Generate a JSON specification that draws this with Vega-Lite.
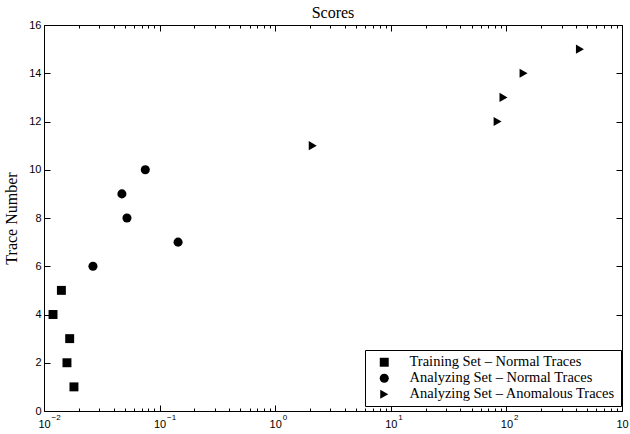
{
  "$schema": "https://vega.github.io/schema/vega-lite/v6.json",
  "width": 578,
  "height": 386,
  "autosize": {"type": "none"},
  "padding": {"left": 44, "top": 25, "right": 8, "bottom": 23},
  "background": "white",
  "title": {"text": "Scores", "font": "Liberation Serif", "fontSize": 16, "fontWeight": "normal", "color": "black", "offset": -2},
  "data": {"values": [
    {"set": "Training Set – Normal Traces", "score": 0.01816, "trace": 1},
    {"set": "Training Set – Normal Traces", "score": 0.0158, "trace": 2},
    {"set": "Training Set – Normal Traces", "score": 0.01668, "trace": 3},
    {"set": "Training Set – Normal Traces", "score": 0.01197, "trace": 4},
    {"set": "Training Set – Normal Traces", "score": 0.01414, "trace": 5},
    {"set": "Analyzing Set – Normal Traces", "score": 0.02652, "trace": 6},
    {"set": "Analyzing Set – Normal Traces", "score": 0.1445, "trace": 7},
    {"set": "Analyzing Set – Normal Traces", "score": 0.0522, "trace": 8},
    {"set": "Analyzing Set – Normal Traces", "score": 0.0472, "trace": 9},
    {"set": "Analyzing Set – Normal Traces", "score": 0.0752, "trace": 10},
    {"set": "Analyzing Set – Anomalous Traces", "score": 2.113, "trace": 11},
    {"set": "Analyzing Set – Anomalous Traces", "score": 83.9, "trace": 12},
    {"set": "Analyzing Set – Anomalous Traces", "score": 94.4, "trace": 13},
    {"set": "Analyzing Set – Anomalous Traces", "score": 140.8, "trace": 14},
    {"set": "Analyzing Set – Anomalous Traces", "score": 432.6, "trace": 15}
  ]},
  "config": {
    "view": {"stroke": null},
    "axis": {
      "grid": false,
      "domainColor": "black",
      "domainWidth": 1,
      "tickColor": "black",
      "tickWidth": 1,
      "labelColor": "black",
      "labelFont": "Liberation Sans",
      "labelFontSize": 11,
      "titleFont": "Liberation Serif",
      "titleFontSize": 16,
      "titleFontWeight": "normal",
      "titleColor": "black"
    },
    "legend": {
      "strokeColor": "black",
      "fillColor": "white",
      "padding": 5,
      "labelFont": "Liberation Serif",
      "labelFontSize": 14.5,
      "labelColor": "black",
      "labelLimit": 400,
      "rowPadding": 1,
      "symbolOffset": 7,
      "labelOffset": 18,
      "symbolStrokeWidth": 0,
      "symbolFillColor": "black",
      "symbolOpacity": 1,
      "cornerRadius": 0
    }
  },
  "resolve": {"axis": {"x": "independent", "y": "independent"}},
  "layer": [
    {
      "mark": {"type": "point", "filled": true, "color": "black", "opacity": 1},
      "encoding": {
        "x": {"field": "score", "type": "quantitative",
              "scale": {"type": "log", "domain": [0.01, 1000], "nice": false},
              "axis": {"orient": "bottom", "values": [0.01, 0.1, 1, 10, 100, 1000], "labelExpr": "'10'", "tickSize": -6, "labelPadding": 13, "title": null, "labelFlush": false, "labelOverlap": false}},
        "y": {"field": "trace", "type": "quantitative",
              "scale": {"domain": [0, 16], "nice": false},
              "axis": {"orient": "left", "values": [0, 2, 4, 6, 8, 10, 12, 14, 16], "tickSize": -6, "labelPadding": 9, "title": "Trace Number", "titlePadding": 9, "labelFlush": false, "labelOverlap": false}},
        "shape": {"field": "set", "type": "nominal",
                  "scale": {"domain": ["Training Set – Normal Traces", "Analyzing Set – Normal Traces", "Analyzing Set – Anomalous Traces"], "range": ["square", "circle", "triangle-right"]},
                  "legend": {"title": null, "orient": "none", "legendX": 321, "legendY": 325}},
        "size": {"field": "set", "type": "nominal",
                 "scale": {"domain": ["Training Set – Normal Traces", "Analyzing Set – Normal Traces", "Analyzing Set – Anomalous Traces"], "range": [80, 85, 170]},
                 "legend": {"title": null, "orient": "none", "legendX": 321, "legendY": 325}}
      }
    },
    {
      "mark": {"type": "point", "opacity": 0},
      "encoding": {
        "x": {"field": "score", "type": "quantitative",
              "scale": {"type": "log", "domain": [0.01, 1000], "nice": false},
              "axis": {"orient": "top", "values": [0.01, 0.1, 1, 10, 100, 1000], "labels": false, "tickSize": -6, "title": null}},
        "y": {"field": "trace", "type": "quantitative",
              "scale": {"domain": [0, 16], "nice": false},
              "axis": {"orient": "right", "values": [0, 2, 4, 6, 8, 10, 12, 14, 16], "labels": false, "tickSize": -6, "title": null}}
      }
    },
    {
      "mark": {"type": "point", "opacity": 0},
      "encoding": {
        "x": {"field": "score", "type": "quantitative",
              "scale": {"type": "log", "domain": [0.01, 1000], "nice": false},
              "axis": {"orient": "bottom", "values": [0.02,0.03,0.04,0.05,0.06,0.07,0.08,0.09,0.2,0.3,0.4,0.5,0.6,0.7,0.8,0.9,2,3,4,5,6,7,8,9,20,30,40,50,60,70,80,90,200,300,400,500,600,700,800,900], "labels": false, "tickSize": -3, "title": null, "domain": false}},
        "y": {"field": "trace", "type": "quantitative", "scale": {"domain": [0, 16], "nice": false}, "axis": null}
      }
    },
    {
      "mark": {"type": "point", "opacity": 0},
      "encoding": {
        "x": {"field": "score", "type": "quantitative",
              "scale": {"type": "log", "domain": [0.01, 1000], "nice": false},
              "axis": {"orient": "top", "values": [0.02,0.03,0.04,0.05,0.06,0.07,0.08,0.09,0.2,0.3,0.4,0.5,0.6,0.7,0.8,0.9,2,3,4,5,6,7,8,9,20,30,40,50,60,70,80,90,200,300,400,500,600,700,800,900], "labels": false, "tickSize": -3, "title": null, "domain": false}},
        "y": {"field": "trace", "type": "quantitative", "scale": {"domain": [0, 16], "nice": false}, "axis": null}
      }
    },
    {
      "mark": {"type": "point", "opacity": 0},
      "encoding": {
        "x": {"field": "score", "type": "quantitative",
              "scale": {"type": "log", "domain": [0.01, 1000], "nice": false},
              "axis": {"orient": "bottom", "values": [0.01, 0.1, 1, 10, 100, 1000], "labelExpr": "format(round(log(datum.value)/LN10), 'd')", "ticks": false, "domain": false, "labelFontSize": 8, "labelAlign": "left", "labelOffset": 7, "labelPadding": 2, "title": null, "labelFlush": false, "labelOverlap": false}},
        "y": {"field": "trace", "type": "quantitative", "scale": {"domain": [0, 16], "nice": false}, "axis": null}
      }
    }
  ]
}
